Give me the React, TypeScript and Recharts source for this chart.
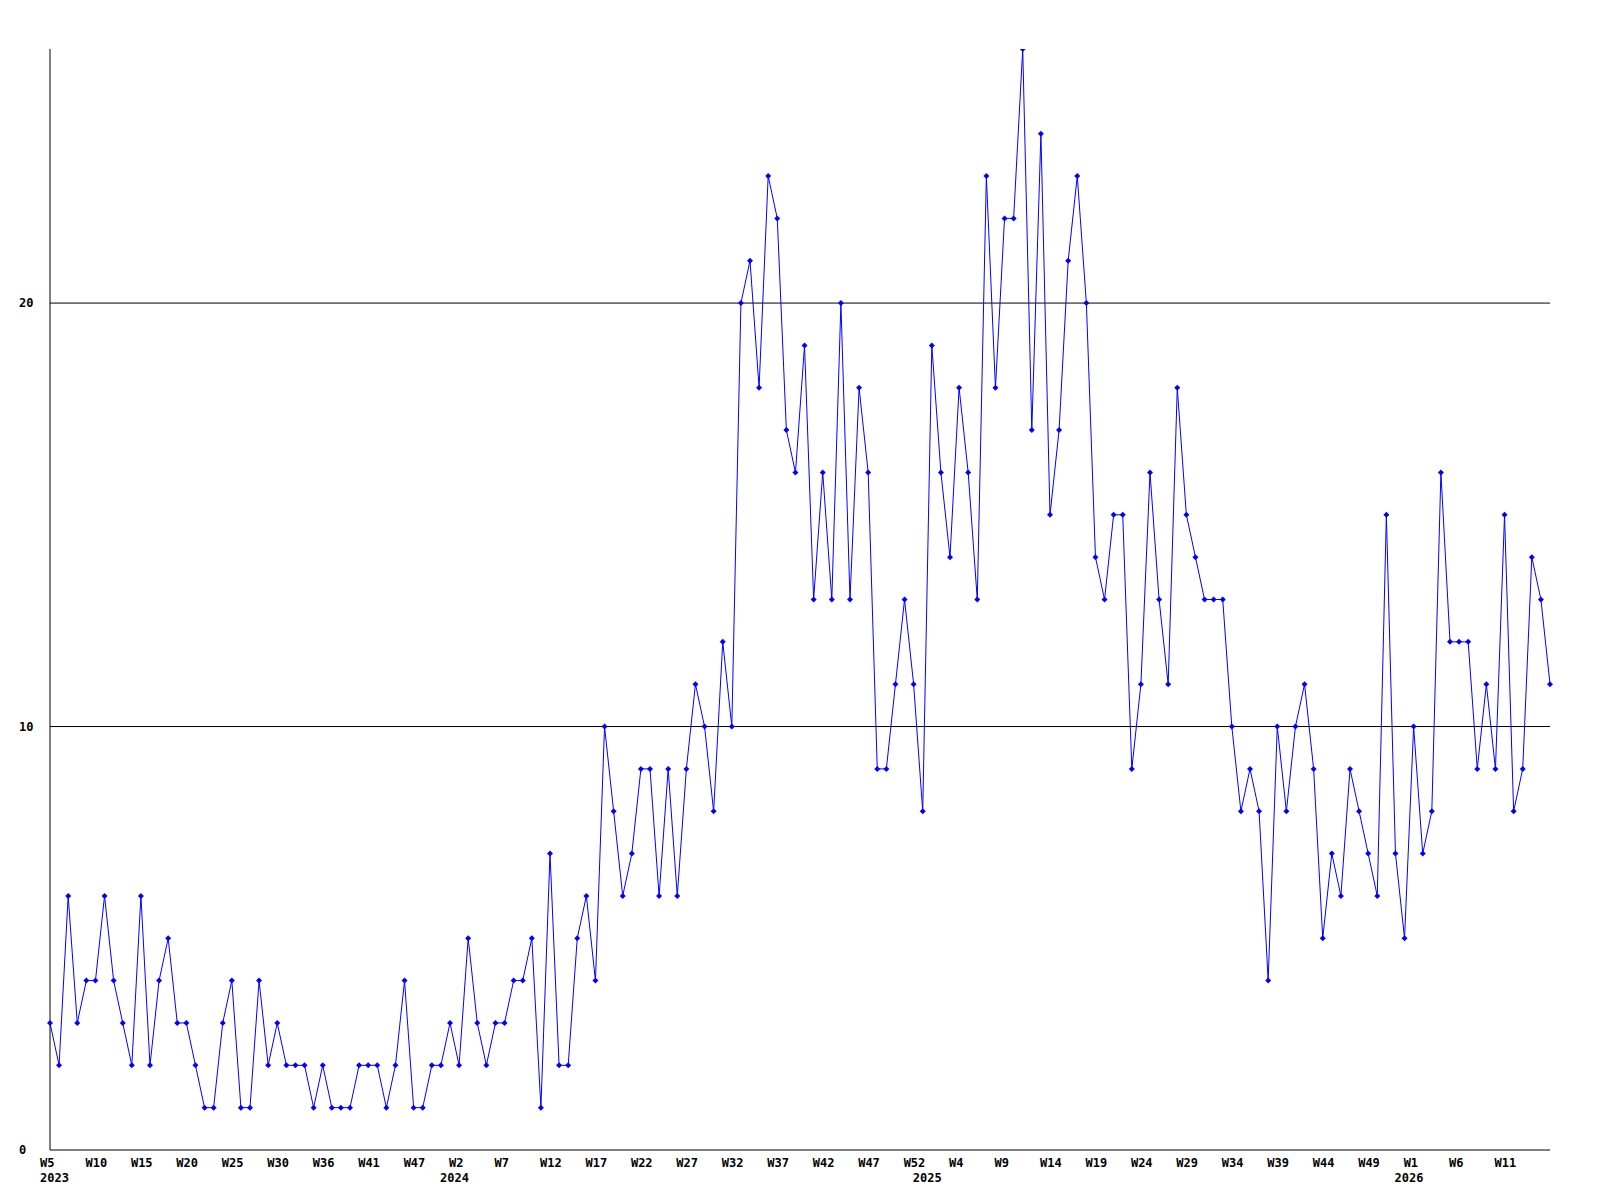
import React from "react";
import { CartesianGrid, Line, LineChart, XAxis, YAxis } from "recharts";

// weekly counts, 2023 W5 onwards
const counts = [
  3, 2, 6, 3, 4, 4, 6, 4, 3, 2, 6, 2, 4, 5, 3, 3, 2, 1, 1, 3,
  4, 1, 1, 4, 2, 3, 2, 2, 2, 1, 2, 1, 1, 1, 2, 2, 2, 1, 2, 4,
  1, 1, 2, 2, 3, 2, 5, 3, 2, 3, 3, 4, 4, 5, 1, 7, 2, 2, 5, 6,
  4, 10, 8, 6, 7, 9, 9, 6, 9, 6, 9, 11, 10, 8, 12, 10, 20, 21, 18, 23,
  22, 17, 16, 19, 13, 16, 13, 20, 13, 18, 16, 9, 9, 11, 13, 11, 8, 19, 16, 14,
  18, 16, 13, 23, 18, 22, 22, 26, 17, 24, 15, 17, 21, 23, 20, 14, 13, 15, 15, 9,
  11, 16, 13, 11, 18, 15, 14, 13, 13, 13, 10, 8, 9, 8, 4, 10, 8, 10, 11, 9,
  5, 7, 6, 9, 8, 7, 6, 15, 7, 5, 10, 7, 8, 16, 12, 12, 12, 9, 11, 9,
  15, 8, 9, 14, 13, 11,
];

// week label shown under every 5th point
const weekLabels = [
  "W5", "W10", "W15", "W20", "W25", "W30", "W36", "W41", "W47", "W2",
  "W7", "W12", "W17", "W22", "W27", "W32", "W37", "W42", "W47", "W52",
  "W4", "W9", "W14", "W19", "W24", "W29", "W34", "W39", "W44", "W49",
  "W1", "W6", "W11",
];
const labelStep = 5;

// point where each year begins
const yearStarts = [
  { index: 0, year: "2023" },
  { index: 44, year: "2024" },
  { index: 96, year: "2025" },
  { index: 149, year: "2026" },
];

const yTicks = [0, 10, 20];
const gridValues = [10, 20];

const data = counts.map((count, i) => ({ i, count }));

const font = {
  fontFamily: "'DejaVu Sans Mono', monospace",
  fontWeight: "bold" as const,
  fontSize: 12,
  fill: "#000",
};

function WeekTick(props: any) {
  const { x, y, payload } = props;
  const i = payload.value as number;
  const week = i % labelStep === 0 ? weekLabels[i / labelStep] : undefined;
  const year = yearStarts.find((ys) => ys.index === i);
  if (!week && !year) return null;
  return (
    <g>
      {week && (
        <text x={x - 10} y={y + 9} textAnchor="start" {...font}>
          {week}
        </text>
      )}
      {year && (
        <text x={x - 10} y={y + 24} textAnchor="start" {...font}>
          {year.year}
        </text>
      )}
    </g>
  );
}

function CountTick(props: any) {
  const { y, payload } = props;
  return (
    <text x={19} y={y + 4} textAnchor="start" {...font}>
      {payload.value}
    </text>
  );
}

function Diamond(props: any) {
  const { cx, cy, index } = props;
  if (cx == null || cy == null) return <g key={index} />;
  return (
    <path
      key={index}
      d={`M${cx},${cy - 3}L${cx + 3},${cy}L${cx},${cy + 3}L${cx - 3},${cy}Z`}
      fill="#0000ff"
    />
  );
}

export default function App() {
  return (
    <div style={{ position: "absolute", left: 0, top: 0, background: "#fff" }}>
      <LineChart
        width={1600}
        height={1200}
        data={data}
        margin={{ top: 49, right: 50, left: 0, bottom: 0 }}
      >
        <CartesianGrid
          vertical={false}
          horizontalValues={gridValues}
          stroke="#000"
          strokeWidth={1}
        />
        <XAxis
          dataKey="i"
          type="category"
          interval={0}
          height={50}
          tickLine={false}
          axisLine={{ stroke: "#000" }}
          tick={<WeekTick />}
          padding={{ left: 0, right: 0 }}
        />
        <YAxis
          domain={[0, 26]}
          ticks={yTicks}
          width={50}
          tickLine={false}
          axisLine={{ stroke: "#000" }}
          tick={<CountTick />}
          allowDataOverflow
        />
        <Line
          type="linear"
          dataKey="count"
          stroke="#0000ff"
          strokeWidth={1}
          dot={Diamond}
          activeDot={false}
          isAnimationActive={false}
        />
      </LineChart>
    </div>
  );
}
